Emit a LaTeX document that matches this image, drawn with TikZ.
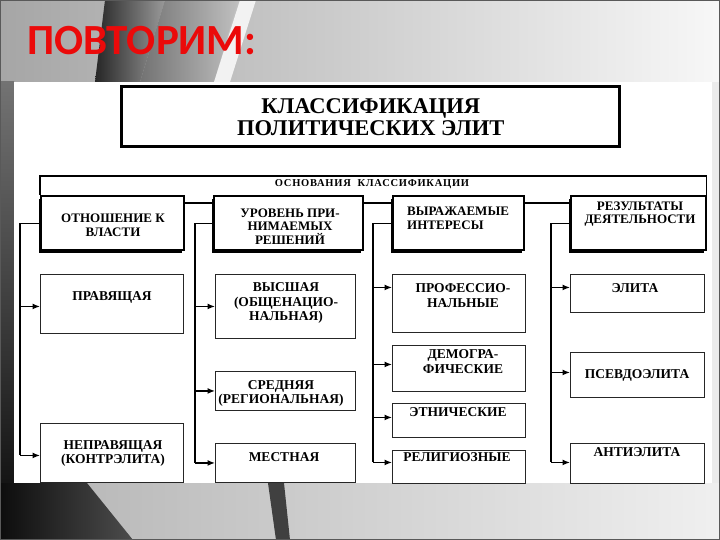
\documentclass[tikz,border=0pt]{standalone}
\usepackage{fontspec}
\setmainfont{Liberation Serif}
\newfontfamily\slidefont{Carlito}
\usetikzlibrary{arrows.meta,shadows}
\definecolor{slidered}{RGB}{235,10,10}
\begin{document}
\begin{tikzpicture}[x=1pt,y=-1pt,
  hdr/.style={draw=black, line width=2.4pt, fill=white, anchor=north west, inner sep=0pt,
    minimum height=54pt,
    drop shadow={shadow xshift=-2.5pt, shadow yshift=-2.5pt, fill=black, opacity=1}},
  htxt/.style={align=center, font=\bfseries\fontsize{13}{13.5}\selectfont, inner sep=0pt},
  leaf/.style={draw=black!85, line width=0.9pt, fill=white, anchor=north west, inner sep=0pt},
  txt/.style={align=center, font=\bfseries\fontsize{13.5}{14.5}\selectfont, inner sep=0pt},
  conn/.style={line width=1.3pt},
  arr/.style={line width=1.3pt, -{Latex[length=7.5pt,width=6pt]}},
]
\useasboundingbox (0,0) rectangle (720,540);
% ---------- slide background ----------
\fill[black!12] (0,0) rectangle (720,540);
\shade[left color=black!35, right color=black!3] (0,0) rectangle (720,82);
\shade[left color=black!85, right color=black!40] (105,0) -- (165,0) -- (140,82) -- (95,82) -- cycle;
\shade[left color=black!55, right color=black!25] (165,0) -- (238,0) -- (214,82) -- (140,82) -- cycle;
\fill[white, opacity=0.8] (240,0) -- (256,0) -- (230,82) -- (214,82) -- cycle;
\shade[top color=black!55, bottom color=black!92] (0,82) rectangle (14,483);
\shade[left color=black!30, right color=black!6] (0,483) rectangle (720,540);
\shade[left color=black!95, right color=black!70] (0,483) -- (87,483) -- (133,540) -- (0,540) -- cycle;
\fill[black!75] (268,483) -- (284,483) -- (290,540) -- (276,540) -- cycle;
\fill[black!8] (712,82) rectangle (720,483);
\fill[white] (14,82) rectangle (712,483);
\draw[black!65, line width=1pt] (0.5,0.5) rectangle (719.5,539.5);
% ---------- slide title ----------
\node[anchor=base west, inner sep=0pt, text=slidered,
  font=\slidefont\bfseries\fontsize{43}{43}\selectfont] (slidetitle) at (27,55) {ПОВТОРИМ:};
% ---------- diagram title ----------
\node[draw=black, line width=3.4pt, fill=white, anchor=north west, minimum width=498pt,
  minimum height=60pt, inner sep=0pt, align=center,
  font=\bfseries\fontsize{22.5}{22}\selectfont] (title) at (120,85)
  {КЛАССИФИКАЦИЯ\\ПОЛИТИЧЕСКИХ ЭЛИТ};
% ---------- header boxes ----------
\node[hdr, minimum width=143pt] (h1) at (40,195) {};
\node[hdr, minimum width=149pt] (h2) at (213,195) {};
\node[hdr, minimum width=131pt] (h3) at (392,195) {};
\node[hdr, minimum width=135pt] (h4) at (570,195) {};
\node[htxt] (th1) at (113,225.5) {ОТНОШЕНИЕ К\\ВЛАСТИ};
\node[htxt] (th2) at (290,226.5) {УРОВЕНЬ ПРИ-\\НИМАЕМЫХ\\РЕШЕНИЙ};
\node[htxt, align=left, anchor=west] (th3) at (407,218.5) {ВЫРАЖАЕМЫЕ\\ИНТЕРЕСЫ};
\node[htxt] (th4) at (640,214) {РЕЗУЛЬТАТЫ\\ДЕЯТЕЛЬНОСТИ};
% frame "основания классификации"
\coordinate (ftop) at (0,176);
\draw[line width=1.3pt] (h1.north west) -- (h1.north west |- ftop) -| ([xshift=-1pt]h4.north east);
\node[inner sep=0pt, font=\bfseries\fontsize{10.5}{11}\selectfont\addfontfeature{LetterSpace=7}]
  (basis) at (372,184.5) {ОСНОВАНИЯ\ \ КЛАССИФИКАЦИИ};
\coordinate (sp1) at ([yshift=20pt]h1.east);
\coordinate (sp2) at ([yshift=20pt]h2.east);
\coordinate (sp3) at ([yshift=20pt]h3.east);
\draw[line width=1.5pt] (sp1) -- (sp1 -| h2.west) (sp2) -- (sp2 -| h3.west) (sp3) -- (sp3 -| h4.west);
% ---------- leaf boxes ----------
\node[leaf, minimum width=143pt, minimum height=59pt] (b11) at (40,274) {};
\node[leaf, minimum width=143pt, minimum height=59pt] (b12) at (40,423) {};
\node[leaf, minimum width=140pt, minimum height=64pt] (b21) at (215,274) {};
\node[leaf, minimum width=140pt, minimum height=39pt] (b22) at (215,371) {};
\node[leaf, minimum width=140pt, minimum height=39pt] (b23) at (215,443) {};
\node[leaf, minimum width=133pt, minimum height=58pt] (b31) at (392,274) {};
\node[leaf, minimum width=133pt, minimum height=46pt] (b32) at (392,345) {};
\node[leaf, minimum width=133pt, minimum height=34pt] (b33) at (392,403) {};
\node[leaf, minimum width=133pt, minimum height=33pt] (b34) at (392,450) {};
\node[leaf, minimum width=134pt, minimum height=38pt] (b41) at (570,274) {};
\node[leaf, minimum width=134pt, minimum height=45pt] (b42) at (570,352) {};
\node[leaf, minimum width=134pt, minimum height=40pt] (b43) at (570,443) {};
% leaf texts
\node[txt] (t11) at (112,297) {ПРАВЯЩАЯ};
\node[txt] (t12) at (113,453.5) {НЕПРАВЯЩАЯ\\(КОНТРЭЛИТА)};
\node[txt] (t21) at (286,303) {ВЫСШАЯ\\(ОБЩЕНАЦИО-\\НАЛЬНАЯ)};
\node[txt] (t22) at (281,393.5) {СРЕДНЯЯ\\(РЕГИОНАЛЬНАЯ)};
\node[txt] (t23) at (284,457) {МЕСТНАЯ};
\node[txt] (t31) at (463,295.5) {ПРОФЕССИО-\\НАЛЬНЫЕ};
\node[txt] (t32) at (463,361.5) {ДЕМОГРА-\\ФИЧЕСКИЕ};
\node[txt] (t33) at (458,412) {ЭТНИЧЕСКИЕ};
\node[txt] (t34) at (457,457) {РЕЛИГИОЗНЫЕ};
\node[txt] (t41) at (635,288) {ЭЛИТА};
\node[txt] (t42) at (637,375) {ПСЕВДОЭЛИТА};
\node[txt] (t43) at (637,452) {АНТИЭЛИТА};
% ---------- connectors ----------
\coordinate (k1) at (20,0);
\coordinate (k2) at (195,0);
\coordinate (k3) at (373,0);
\coordinate (k4) at (551,0);
\coordinate (a11) at ([yshift=-2.5pt]b11.west);
\coordinate (a12) at ([yshift=-2.5pt]b12.west);
\coordinate (a21) at (b21.west);
\coordinate (a22) at (b22.west);
\coordinate (a23) at (b23.west);
\coordinate (a31) at ([yshift=16pt]b31.west);
\coordinate (a32) at ([yshift=4pt]b32.west);
\coordinate (a33) at ([yshift=3pt]b33.west);
\coordinate (a34) at ([yshift=4.5pt]b34.west);
\coordinate (a41) at ([yshift=6pt]b41.west);
\coordinate (a42) at ([yshift=2.5pt]b42.west);
\coordinate (a43) at ([yshift=1pt]b43.west);
\draw[conn] (h1.west) -| (k1 |- a12);
\draw[conn] (h2.west) -| (k2 |- a23);
\draw[conn] (h3.west) -| (k3 |- a34);
\draw[conn] (h4.west) -| (k4 |- a43);
\foreach \k/\a in {k1/a11,k1/a12,k2/a21,k2/a22,k2/a23,k3/a31,k3/a32,k3/a33,k3/a34,k4/a41,k4/a42,k4/a43}
  \draw[arr] (\k |- \a) -- (\a);
\end{tikzpicture}
\end{document}
